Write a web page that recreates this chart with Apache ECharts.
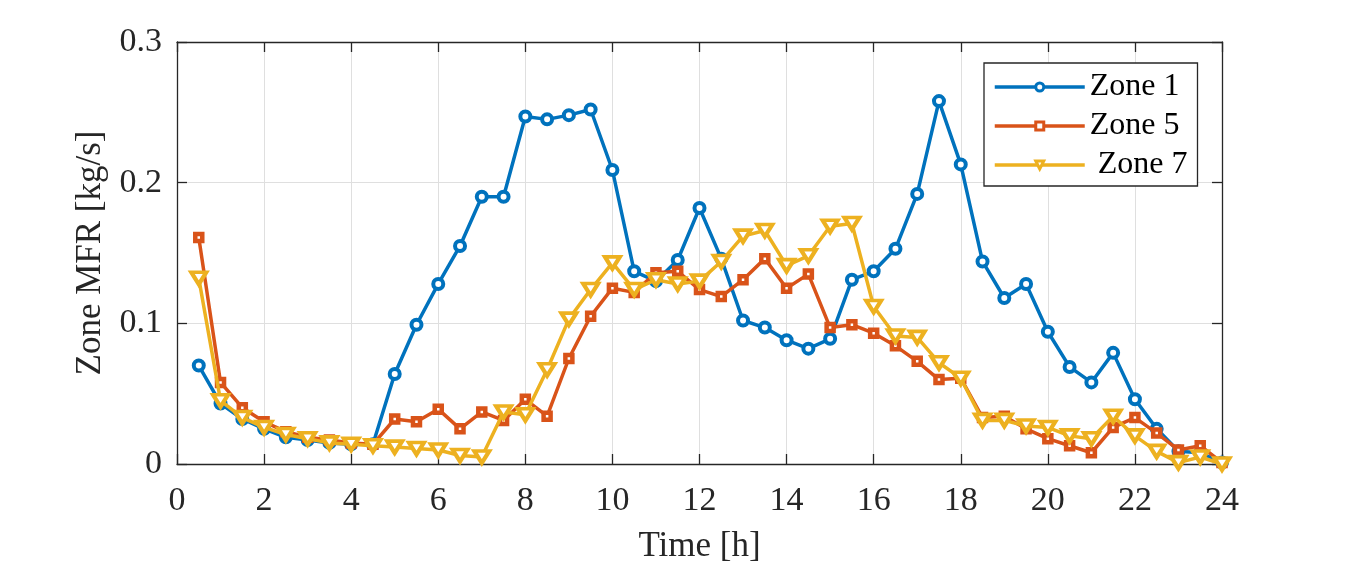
<!DOCTYPE html>
<html>
<head>
<meta charset="utf-8">
<script src="https://cdn.jsdelivr.net/npm/echarts@6/dist/echarts.min.js"></script>
<style>
  html, body { margin: 0; padding: 0; background: #fff; }
  #main { width: 1350px; height: 562px; }
</style>
</head>
<body>
<div id="main"></div>
<script>
// time of day [h]
const hours = [
  0.5, 1, 1.5, 2, 2.5, 3, 3.5, 4, 4.5, 5, 5.5, 6,
  6.5, 7, 7.5, 8, 8.5, 9, 9.5, 10, 10.5, 11, 11.5, 12,
  12.5, 13, 13.5, 14, 14.5, 15, 15.5, 16, 16.5, 17, 17.5, 18,
  18.5, 19, 19.5, 20, 20.5, 21, 21.5, 22, 22.5, 23, 23.5, 24
]

// zone mass flow rate [kg/s]
const zone1 = [
  0.070, 0.043, 0.032, 0.025, 0.019, 0.017, 0.015, 0.014, 0.014, 0.064, 0.099, 0.128,
  0.155, 0.190, 0.190, 0.247, 0.245, 0.248, 0.252, 0.209, 0.137, 0.130, 0.145, 0.182,
  0.146, 0.102, 0.097, 0.088, 0.082, 0.089, 0.131, 0.137, 0.153, 0.192, 0.258, 0.213,
  0.144, 0.118, 0.128, 0.094, 0.069, 0.058, 0.079, 0.046, 0.025, 0.009, 0.008, 0.001
]
const zone5 = [
  0.161, 0.058, 0.040, 0.030, 0.023, 0.019, 0.017, 0.015, 0.014, 0.032, 0.030, 0.039,
  0.025, 0.037, 0.031, 0.046, 0.034, 0.075, 0.105, 0.125, 0.122, 0.136, 0.137, 0.124,
  0.119, 0.131, 0.146, 0.125, 0.135, 0.097, 0.099, 0.093, 0.084, 0.073, 0.060, 0.061,
  0.033, 0.034, 0.025, 0.018, 0.013, 0.008, 0.026, 0.033, 0.022, 0.010, 0.013, 0.001
]
const zone7 = [
  0.132, 0.045, 0.033, 0.026, 0.021, 0.018, 0.015, 0.014, 0.013, 0.012, 0.011, 0.010,
  0.006, 0.005, 0.037, 0.035, 0.067, 0.103, 0.124, 0.143, 0.124, 0.131, 0.128, 0.130,
  0.144, 0.162, 0.166, 0.141, 0.148, 0.169, 0.171, 0.112, 0.091, 0.090, 0.072, 0.061,
  0.031, 0.031, 0.027, 0.026, 0.020, 0.018, 0.034, 0.020, 0.009, 0.001, 0.005, 0.000
]

const xTicks = [0, 2, 4, 6, 8, 10, 12, 14, 16, 18, 20, 22, 24]
const yTicks = [0, 0.1, 0.2, 0.3]

const colors = ['#0072BD', '#D95319', '#EDB120']
const font = 'Liberation Serif, Times New Roman, serif'

const pairs = values => values.map((v, i) => [hours[i], v])

const chartObj = echarts.init(document.getElementById('main'))

/** 坐标轴公共样式 */
const boxAxis = (extra) => ({
  axisLine: { show: true, onZero: false, lineStyle: { color: '#262626', width: 1.3 } },
  axisTick: { show: true, inside: true, length: 10, lineStyle: { color: '#262626', width: 1.3 } },
  ...extra
})

/** 空心标记的折线 */
const markedLine = (name, values, color, symbol, size, border, z) => ({
  name,
  type: 'line',
  data: pairs(values),
  symbol,
  symbolSize: size,
  lineStyle: { width: 3.5, color },
  itemStyle: { color: '#fff', borderColor: color, borderWidth: border },
  z
})

const option = {
  animation: false,
  color: colors,
  grid: {
    left: 177, right: 128, top: 42, bottom: 98,
    containLabel: false,
    outerBoundsMode: 'none'
  },
  legend: {
    orient: 'vertical',
    left: 984,
    top: 63,
    backgroundColor: '#fff',
    borderColor: '#262626',
    borderWidth: 1.3,
    borderRadius: 0,
    padding: [8, 10, 5, 9],
    itemWidth: 90,
    itemHeight: 10,
    itemGap: 7,
    lineStyle: { width: 3.5 },
    itemStyle: { borderWidth: 3 },
    textStyle: { fontFamily: font, fontSize: 32, lineHeight: 32, color: '#000' },
    data: ['Zone 1', 'Zone 5', ' Zone 7']
  },
  xAxis: [
    boxAxis({
      type: 'value',
      min: 0,
      max: 24,
      interval: 2,
      name: 'Time [h]',
      nameLocation: 'middle',
      nameGap: 65,
      nameTextStyle: { fontFamily: font, fontSize: 35, color: '#262626' },
      axisLabel: {
        fontFamily: font, fontSize: 34, color: '#262626', margin: 20,
        formatter: v => (xTicks.includes(v) ? String(v) : '')
      },
      splitLine: { show: true, lineStyle: { color: '#dfdfdf', width: 1 } }
    }),
    boxAxis({
      type: 'value',
      position: 'top',
      min: 0,
      max: 24,
      interval: 2,
      axisLabel: { show: false },
      splitLine: { show: false }
    })
  ],
  yAxis: [
    boxAxis({
      type: 'value',
      min: 0,
      max: 0.3,
      interval: 0.1,
      name: 'Zone MFR [kg/s]',
      nameLocation: 'middle',
      nameGap: 66,
      nameTextStyle: { fontFamily: font, fontSize: 35, color: '#262626' },
      axisLabel: {
        fontFamily: font, fontSize: 34, color: '#262626', margin: 15,
        formatter: v => {
          const t = yTicks.find(k => Math.abs(k - v) < 1e-9)
          return t === undefined ? '' : (t === 0 ? '0' : t.toFixed(1))
        }
      },
      splitLine: { show: true, lineStyle: { color: '#dfdfdf', width: 1 } }
    }),
    boxAxis({
      type: 'value',
      position: 'right',
      min: 0,
      max: 0.3,
      interval: 0.1,
      axisLabel: { show: false },
      splitLine: { show: false }
    })
  ],
  series: [
    markedLine('Zone 1', zone1, colors[0], 'circle', 10, 4, 3),
    markedLine('Zone 5', zone5, colors[1], 'rect', 7, 4.5, 4),
    {
      ...markedLine(' Zone 7', zone7, colors[2], 'triangle', [15, 12], 4, 5),
      symbolRotate: 180
    }
  ]
}

chartObj.setOption(option, true)
</script>
</body>
</html>
